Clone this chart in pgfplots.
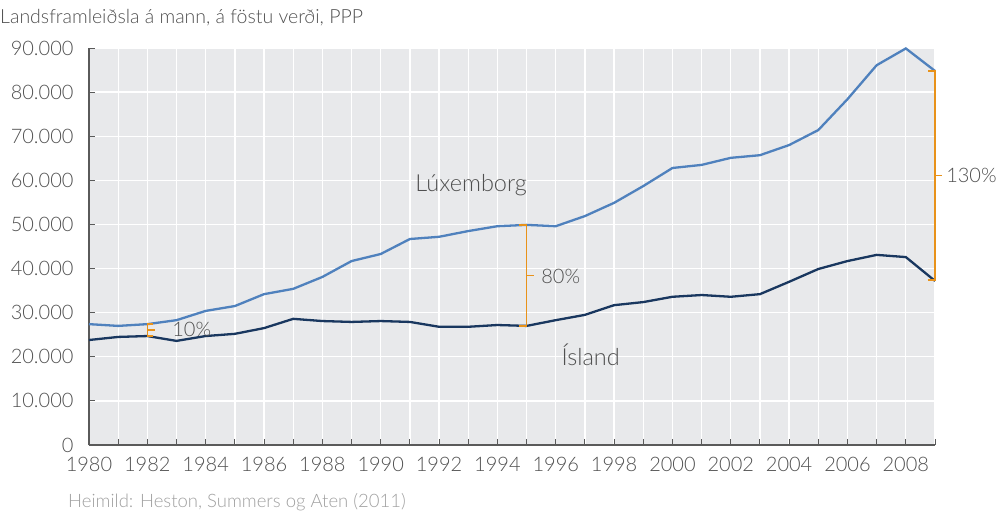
\documentclass[border=0pt]{standalone}
\usepackage{fontspec}
\setmainfont{Lato Light}
\usepackage{pgfplots}
\pgfplotsset{compat=1.18}
\definecolor{lux}{RGB}{79,129,189}
\definecolor{isl}{RGB}{25,55,95}
\definecolor{brk}{RGB}{232,146,26}
\definecolor{bg}{RGB}{232,233,235}
\definecolor{txt}{RGB}{80,80,80}
\definecolor{src}{RGB}{160,160,160}
\definecolor{axl}{RGB}{90,90,90}
\begin{document}
\begin{tikzpicture}
\useasboundingbox (0,0) rectangle (998pt,514pt);
\node[anchor=west, inner sep=0pt, text=txt, font=\fontsize{19.5}{22}\selectfont] at (0pt,496pt) {Landsframleiðsla á mann, á föstu verði, PPP};
\node[anchor=west, inner sep=0pt, text=src, font=\fontsize{18.5}{20}\selectfont] at (68pt,12pt) {Heimild: Heston, Summers og Aten (2011)};
\begin{axis}[
  at={(89pt,69pt)}, anchor=south west,
  scale only axis, width=846pt, height=397pt,
  xmin=1980, xmax=2009, ymin=0, ymax=90000,
  axis background/.style={fill=bg},
  axis x line*=bottom, axis y line*=left,
  axis line style={axl, line width=1.3pt},
  xtick={1980,1982,...,2008},
  minor xtick={1981,1983,...,2009},
  ytick={0,10000,...,90000},
  grid=both,
  major grid style={white, line width=1.3pt},
  minor grid style={white, line width=1.3pt},
  tick align=inside,
  major tick length=6pt, minor tick length=6pt,
  tick style={axl, line width=1pt},
  /pgf/number format/assume math mode=true,
  ticklabel style={text=txt, font=\fontsize{20}{22}\selectfont},
  xticklabel style={/pgf/number format/1000 sep={}, yshift=-9pt},
  yticklabel style={/pgf/number format/1000 sep={.}, xshift=-12pt},
  scaled y ticks=false,
  clip=false,
]
\addplot[lux, line width=2.3pt] coordinates {
(1980,27400) (1981,27000) (1982,27400) (1983,28300) (1984,30400) (1985,31500)
(1986,34200) (1987,35400) (1988,38100) (1989,41700) (1990,43300) (1991,46700)
(1992,47200) (1993,48500) (1994,49600) (1995,49900) (1996,49600) (1997,51900)
(1998,54900) (1999,58700) (2000,62800) (2001,63500) (2002,65100) (2003,65700)
(2004,68000) (2005,71400) (2006,78400) (2007,86100) (2008,89900) (2009,84800)};
\addplot[isl, line width=2.3pt] coordinates {
(1980,23800) (1981,24500) (1982,24700) (1983,23600) (1984,24700) (1985,25200)
(1986,26500) (1987,28600) (1988,28100) (1989,27900) (1990,28100) (1991,27900)
(1992,26800) (1993,26800) (1994,27200) (1995,27000) (1996,28300) (1997,29500)
(1998,31700) (1999,32400) (2000,33600) (2001,34000) (2002,33600) (2003,34200)
(2004,37000) (2005,39900) (2006,41700) (2007,43100) (2008,42600) (2009,37200)};
% brackets
\addplot[brk, line width=1.6pt] coordinates {(1982.2,24700) (1982,24700) (1982,27400) (1982.2,27400)};
\addplot[brk, line width=1.6pt] coordinates {(1982,26050) (1982.25,26050)};
\addplot[brk, line width=1.6pt] coordinates {(1994.75,27000) (1995,27000) (1995,49900) (1994.75,49900)};
\addplot[brk, line width=1.6pt] coordinates {(1995,38400) (1995.25,38400)};
\addplot[brk, line width=1.6pt] coordinates {(2008.75,37400) (2009,37400) (2009,84800) (2008.75,84800)};
\addplot[brk, line width=1.6pt] coordinates {(2009,61100) (2009.25,61100)};
\node[anchor=west, text=txt, font=\fontsize{20}{22}\selectfont, inner sep=0pt] at (axis cs:1982.85,26300) {10\%};
\node[anchor=west, text=txt, font=\fontsize{20}{22}\selectfont, inner sep=0pt] at (axis cs:1995.5,38300) {80\%};
\node[anchor=west, text=txt, font=\fontsize{20}{22}\selectfont, inner sep=0pt] at (axis cs:2009.38,61100) {130\%};
\node[text=txt, font=\fontsize{23.5}{26}\selectfont] at (axis cs:1993.1,58800) {Lúxemborg};
\node[text=txt, font=\fontsize{23.5}{26}\selectfont] at (axis cs:1997.2,20400) {Ísland};
\end{axis}
\end{tikzpicture}
\end{document}
